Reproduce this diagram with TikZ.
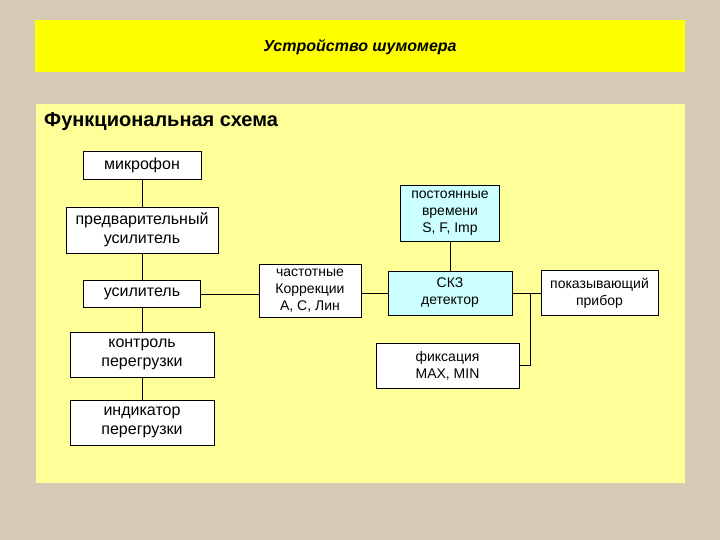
\documentclass[tikz,border=0pt]{standalone}
\usepackage{fontspec}
\setmainfont{Liberation Sans}
\definecolor{linen}{RGB}{212,202,182}
\definecolor{panel}{RGB}{255,255,153}
\definecolor{band}{RGB}{255,255,0}
\definecolor{cyanbox}{RGB}{204,255,255}
\begin{document}
\begin{tikzpicture}[x=1pt,y=-1pt,
  blk/.style={draw=black,line width=0.8pt,fill=white,inner sep=0pt,align=center,
    font=\fontsize{16}{19}\selectfont},
  sblk/.style={blk,font=\fontsize{14}{17}\selectfont},
  cblk/.style={sblk,fill=cyanbox},
  wire/.style={draw=black,line width=0.8pt}]
\useasboundingbox (0,0) rectangle (720,540);
\fill[linen] (0,0) rectangle (720,540);
% title band
\fill[band] (35,20) rectangle (685,72);
\node (title) at (360,47) {\fontsize{16}{19}\selectfont\bfseries\itshape Устройство шумомера};
% panel
\fill[panel] (36,104) rectangle (685,483);
\node[anchor=west,inner sep=0pt] (head) at (44,122) {\fontsize{20}{24}\selectfont\bfseries Функциональная схема};
% left column
\node[blk,minimum width=118,minimum height=28] (mic) at (142,165) {микрофон};
\node[blk,minimum width=152,minimum height=46] (pre) at (142,230) {предварительный\\усилитель};
\node[blk,minimum width=117,minimum height=27] (amp) at (142,294) {усилитель};
\node[blk,minimum width=144,minimum height=45] (ctl) at (142,354.5) {контроль\\перегрузки};
\node[blk,minimum width=144,minimum height=45] (ind) at (142,422.5) {индикатор\\перегрузки};
% middle
\node[sblk,minimum width=102,minimum height=53] (frq) at (310,290.5) {частотные\\Коррекции\\A, C, Лин};
\node[cblk,minimum width=99,minimum height=56] (tc) at (450,213) {постоянные\\времени\\S, F, Imp};
\node[cblk,minimum width=124,minimum height=44] (det) at (450,293) {СКЗ\\детектор};
\node[sblk,minimum width=143,minimum height=45] (fix) at (447.5,365.5) {фиксация\\MAX, MIN};
\node[sblk,minimum width=117,minimum height=45] (disp) at (599.5,293) {показывающий\\прибор};
% connectors
\draw[wire] (mic.south) -- (pre.north);
\draw[wire] (pre.south) -- (amp.north);
\draw[wire] (amp.south) -- (ctl.north);
\draw[wire] (ctl.south) -- (ind.north);
\draw[wire] (amp.east) -- (amp.east -| frq.west);
\draw[wire] (frq.east |- det.west) -- (det.west);
\draw[wire] (tc.south) -- (det.north);
\draw[wire] (det.east) -- (disp.west);
\coordinate (j) at (530,293);
\draw[wire] (j) |- (fix.east);
\end{tikzpicture}
\end{document}
